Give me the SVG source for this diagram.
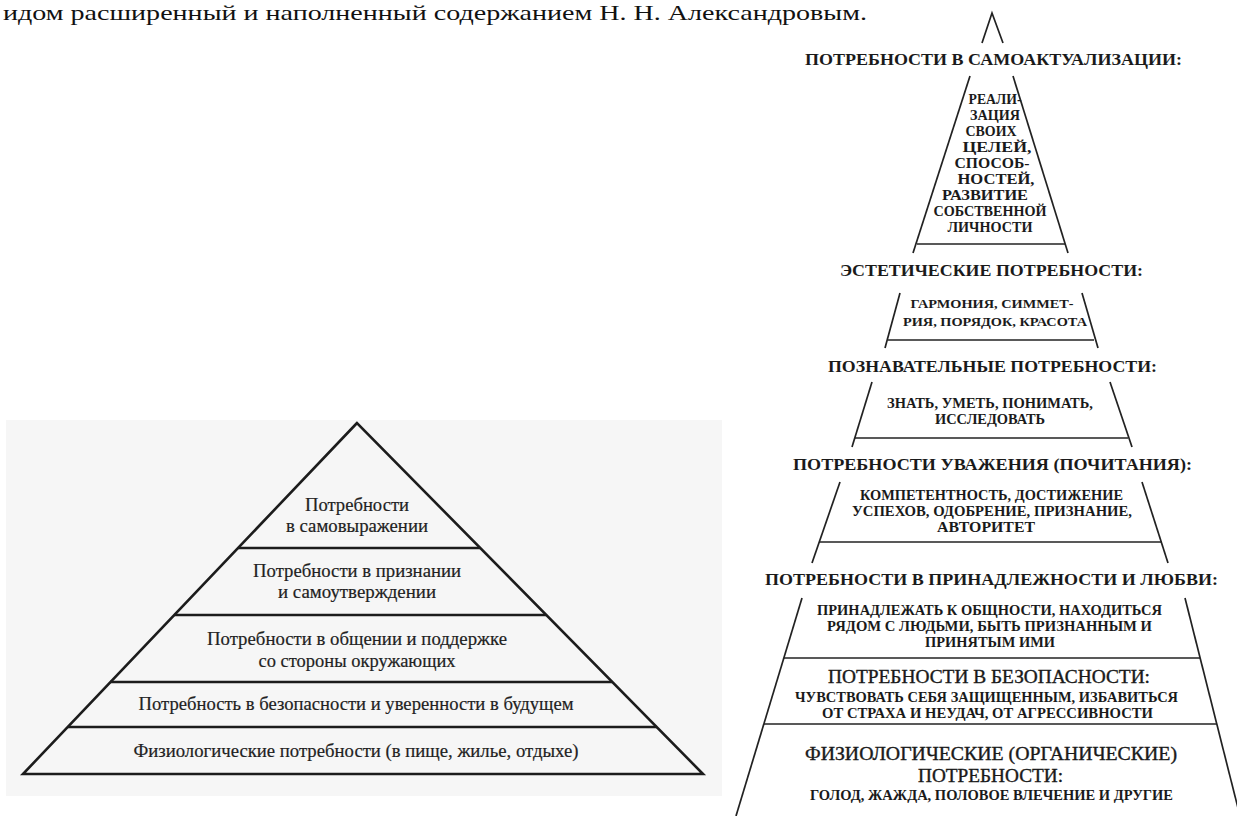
<svg xmlns="http://www.w3.org/2000/svg" width="1237" height="816" viewBox="0 0 1237 816">
<style>
.top{font-family:"Liberation Serif",serif;font-size:21px;fill:#111}
.lt{font-family:"Liberation Serif",serif;font-size:19.5px;fill:#222;stroke:#222;stroke-width:0.2;text-anchor:middle}
.hd{font-family:"Liberation Serif",serif;font-size:17px;font-weight:bold;fill:#1a1a1a;text-anchor:middle}
.hn{font-family:"Liberation Serif",serif;font-size:18px;fill:#1a1a1a;stroke:#1a1a1a;stroke-width:0.35;text-anchor:middle}
.sm{font-family:"Liberation Serif",serif;font-size:14px;font-weight:bold;fill:#1a1a1a;text-anchor:middle}
.sa{font-family:"Liberation Serif",serif;font-size:15px;font-weight:bold;fill:#1a1a1a;text-anchor:middle}
.sm2{font-family:"Liberation Serif",serif;font-size:13px;font-weight:bold;fill:#1a1a1a;text-anchor:middle}
.ledge{stroke:#1c1c1c;stroke-width:2.6;fill:none;stroke-linejoin:miter}
.lline{stroke:#1c1c1c;stroke-width:2.6}
.redge{stroke:#222;stroke-width:1.7;fill:none}
</style>
<rect width="1237" height="816" fill="#ffffff"/>
<text class="top" x="3" y="20" textLength="864" lengthAdjust="spacingAndGlyphs">идом расширенный и наполненный содержанием Н. Н. Александровым.</text>

<!-- LEFT PYRAMID -->
<g id="left-pyramid">
  <rect x="6" y="420" width="716" height="376" fill="#f6f6f6"/>
  <polygon class="ledge" points="357,423 23,774 703,774" fill="#fcfcfc"/>
  <line class="lline" x1="238" y1="548" x2="480" y2="548"/>
  <line class="lline" x1="174" y1="615" x2="546" y2="615"/>
  <line class="lline" x1="110" y1="682" x2="612" y2="682"/>
  <line class="lline" x1="68" y1="727" x2="657" y2="727"/>
</g>
<g id="left-level-5">
  <text class="lt" x="357" y="511" textLength="104" lengthAdjust="spacingAndGlyphs">Потребности</text>
  <text class="lt" x="357" y="532" textLength="142" lengthAdjust="spacingAndGlyphs">в самовыражении</text>
</g>
<g id="left-level-4">
  <text class="lt" x="357" y="577" textLength="208" lengthAdjust="spacingAndGlyphs">Потребности в признании</text>
  <text class="lt" x="357" y="598" textLength="158" lengthAdjust="spacingAndGlyphs">и самоутверждении</text>
</g>
<g id="left-level-3">
  <text class="lt" x="357" y="645" textLength="300" lengthAdjust="spacingAndGlyphs">Потребности в общении и поддержке</text>
  <text class="lt" x="357" y="667" textLength="197" lengthAdjust="spacingAndGlyphs">со стороны окружающих</text>
</g>
<g id="left-level-2">
  <text class="lt" x="356" y="710" textLength="435" lengthAdjust="spacingAndGlyphs">Потребность в безопасности и уверенности в будущем</text>
</g>
<g id="left-level-1">
  <text class="lt" x="356" y="757" textLength="445" lengthAdjust="spacingAndGlyphs">Физиологические потребности (в пище, жилье, отдыхе)</text>
</g>

<!-- RIGHT PYRAMID -->
<g id="right-pyramid-lines">
  <polyline class="redge" points="982,43 992,13 1003,43"/>
  <line class="redge" x1="970" y1="76" x2="913" y2="253"/>
  <line class="redge" x1="1013" y1="76" x2="1068" y2="253"/>
  <line class="redge" x1="917" y1="244" x2="1065" y2="244"/>
  <line class="redge" x1="900" y1="293" x2="885" y2="348"/>
  <line class="redge" x1="1082" y1="293" x2="1098" y2="348"/>
  <line class="redge" x1="888" y1="340" x2="1094" y2="340"/>
  <line class="redge" x1="872" y1="382" x2="852" y2="447"/>
  <line class="redge" x1="1110" y1="382" x2="1132" y2="447"/>
  <line class="redge" x1="855" y1="438" x2="1128" y2="438"/>
  <line class="redge" x1="840" y1="482" x2="812" y2="563"/>
  <line class="redge" x1="1142" y1="482" x2="1168" y2="563"/>
  <line class="redge" x1="819" y1="542" x2="1162" y2="542"/>
  <line class="redge" x1="802" y1="598" x2="736" y2="816"/>
  <line class="redge" x1="1185" y1="598" x2="1240" y2="816"/>
  <line class="redge" x1="784" y1="658" x2="1200" y2="658"/>
  <line class="redge" x1="764" y1="724" x2="1217" y2="724"/>
</g>
<g id="self-actualization">
  <text class="hd" x="993.5" y="65" textLength="377" lengthAdjust="spacingAndGlyphs">ПОТРЕБНОСТИ В САМОАКТУАЛИЗАЦИИ:</text>
  <text class="sa" x="995" y="104" textLength="53" lengthAdjust="spacingAndGlyphs">РЕАЛИ-</text>
  <text class="sa" x="995" y="120" textLength="50" lengthAdjust="spacingAndGlyphs">ЗАЦИЯ</text>
  <text class="sa" x="991" y="136" textLength="51" lengthAdjust="spacingAndGlyphs">СВОИХ</text>
  <text class="sa" x="997" y="152" textLength="69" lengthAdjust="spacingAndGlyphs">ЦЕЛЕЙ,</text>
  <text class="sa" x="992" y="168" textLength="75" lengthAdjust="spacingAndGlyphs">СПОСОБ-</text>
  <text class="sa" x="996" y="184" textLength="77" lengthAdjust="spacingAndGlyphs">НОСТЕЙ,</text>
  <text class="sa" x="985" y="200" textLength="86" lengthAdjust="spacingAndGlyphs">РАЗВИТИЕ</text>
  <text class="sa" x="990" y="216" textLength="113" lengthAdjust="spacingAndGlyphs">СОБСТВЕННОЙ</text>
  <text class="sa" x="990" y="232" textLength="85" lengthAdjust="spacingAndGlyphs">ЛИЧНОСТИ</text>
</g>
<g id="aesthetic">
  <text class="hd" x="991.5" y="276" textLength="303" lengthAdjust="spacingAndGlyphs">ЭСТЕТИЧЕСКИЕ ПОТРЕБНОСТИ:</text>
  <text class="sm2" x="992" y="308" textLength="163" lengthAdjust="spacingAndGlyphs">ГАРМОНИЯ, СИММЕТ-</text>
  <text class="sm2" x="995" y="326" textLength="184" lengthAdjust="spacingAndGlyphs">РИЯ, ПОРЯДОК, КРАСОТА</text>
</g>
<g id="cognitive">
  <text class="hd" x="992.5" y="372" textLength="329" lengthAdjust="spacingAndGlyphs">ПОЗНАВАТЕЛЬНЫЕ ПОТРЕБНОСТИ:</text>
  <text class="sm" x="990" y="408" textLength="206" lengthAdjust="spacingAndGlyphs">ЗНАТЬ, УМЕТЬ, ПОНИМАТЬ,</text>
  <text class="sm" x="990" y="424" textLength="110" lengthAdjust="spacingAndGlyphs">ИССЛЕДОВАТЬ</text>
</g>
<g id="esteem">
  <text class="hd" x="992.5" y="470" textLength="399" lengthAdjust="spacingAndGlyphs">ПОТРЕБНОСТИ УВАЖЕНИЯ (ПОЧИТАНИЯ):</text>
  <text class="sm" x="991.5" y="500" textLength="263" lengthAdjust="spacingAndGlyphs">КОМПЕТЕНТНОСТЬ, ДОСТИЖЕНИЕ</text>
  <text class="sm" x="992" y="516" textLength="280" lengthAdjust="spacingAndGlyphs">УСПЕХОВ, ОДОБРЕНИЕ, ПРИЗНАНИЕ,</text>
  <text class="sm" x="986" y="532" textLength="98" lengthAdjust="spacingAndGlyphs">АВТОРИТЕТ</text>
</g>
<g id="belonging">
  <text class="hd" x="991.5" y="585" textLength="453" lengthAdjust="spacingAndGlyphs">ПОТРЕБНОСТИ В ПРИНАДЛЕЖНОСТИ И ЛЮБВИ:</text>
  <text class="sm" x="989.5" y="615" textLength="345" lengthAdjust="spacingAndGlyphs">ПРИНАДЛЕЖАТЬ К ОБЩНОСТИ, НАХОДИТЬСЯ</text>
  <text class="sm" x="989.5" y="631" textLength="325" lengthAdjust="spacingAndGlyphs">РЯДОМ С ЛЮДЬМИ, БЫТЬ ПРИЗНАННЫМ И</text>
  <text class="sm" x="990" y="647" textLength="130" lengthAdjust="spacingAndGlyphs">ПРИНЯТЫМ ИМИ</text>
</g>
<g id="safety">
  <text class="hn" x="989" y="683" textLength="322" lengthAdjust="spacingAndGlyphs">ПОТРЕБНОСТИ В БЕЗОПАСНОСТИ:</text>
  <text class="sm" x="986.5" y="702" textLength="383" lengthAdjust="spacingAndGlyphs">ЧУВСТВОВАТЬ СЕБЯ ЗАЩИЩЕННЫМ, ИЗБАВИТЬСЯ</text>
  <text class="sm" x="987.5" y="718" textLength="331" lengthAdjust="spacingAndGlyphs">ОТ СТРАХА И НЕУДАЧ, ОТ АГРЕССИВНОСТИ</text>
</g>
<g id="physiological">
  <text class="hn" x="991" y="760" textLength="372" lengthAdjust="spacingAndGlyphs">ФИЗИОЛОГИЧЕСКИЕ (ОРГАНИЧЕСКИЕ)</text>
  <text class="hn" x="990.5" y="782" textLength="145" lengthAdjust="spacingAndGlyphs">ПОТРЕБНОСТИ:</text>
  <text class="sm" x="991.5" y="800" textLength="363" lengthAdjust="spacingAndGlyphs">ГОЛОД, ЖАЖДА, ПОЛОВОЕ ВЛЕЧЕНИЕ И ДРУГИЕ</text>
</g>
</svg>
